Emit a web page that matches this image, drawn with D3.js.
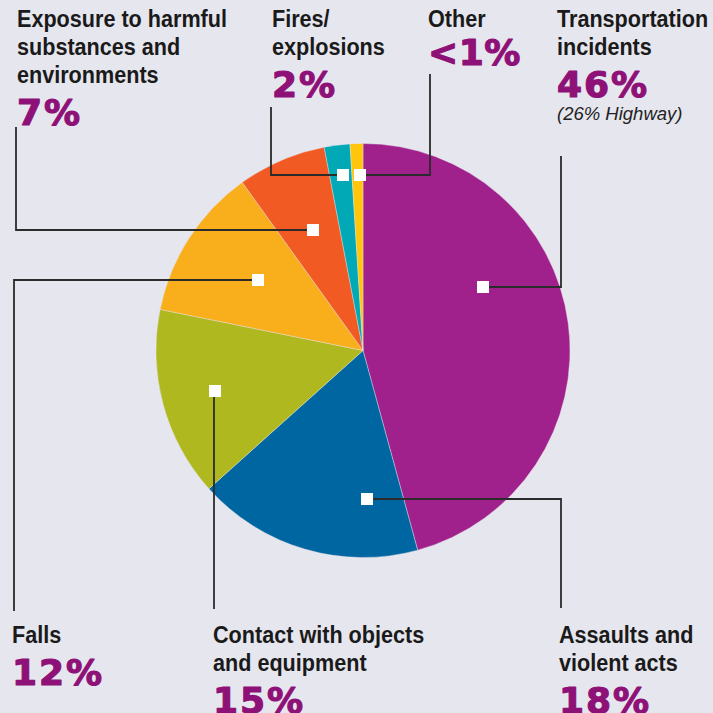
<!DOCTYPE html>
<html><head><meta charset="utf-8">
<script src="https://cdn.jsdelivr.net/npm/d3@7"></script>
<style>
html,body{margin:0;padding:0;background:#e6e6ee;}
svg{display:block;}
</style></head>
<body>
<svg id="chart" width="713" height="713"></svg>
<script>
// ---- data ----
const categories = ["Transportation incidents","Assaults and violent acts","Contact with objects and equipment","Falls","Exposure to harmful substances and environments","Fires/explosions","Other"];
const values = [45.7, 17.6, 14.8, 11.9, 6.9, 2.0, 1.0];
const percentLabels = ["46%","18%","15%","12%","7%","2%","<1%"];
const titleLines = [["Transportation","incidents"],["Assaults and","violent acts"],["Contact with objects","and equipment"],["Falls"],["Exposure to harmful","substances and","environments"],["Fires/","explosions"],["Other"]];
const notes = ["(26% Highway)","","","","","",""];
const colors = ["#a0218b","#0066a1","#afb81f","#f9ae1c","#f15a22","#00a9b5","#ffc60b"];

// ---- layout (positions only) ----
const cx = 363, cy = 350.5, R = 207;
const layout = [
  {mx:483,my:287, path:"h", ex:561, ey:156, lx:557, ly:27},
  {mx:367,my:499, path:"h", ex:561, ey:608, lx:559, ly:643},
  {mx:215,my:391, path:"v", ex:214, ey:609, lx:213, ly:643},
  {mx:258,my:280, path:"h", ex:14,  ey:611, lx:12,  ly:643},
  {mx:313,my:230, path:"h", ex:16,  ey:127, lx:17,  ly:27},
  {mx:343,my:175, path:"h", ex:271, ey:107, lx:272, ly:27},
  {mx:360,my:175, path:"h", ex:430, ey:74,  lx:428, ly:27}
];

const svg = d3.select("#chart");
svg.append("rect").attr("width",713).attr("height",713).attr("fill","#e6e6ee");

const pie = d3.pie().sort(null).startAngle(0).endAngle(2*Math.PI).value(d=>d);
const arc = d3.arc().innerRadius(0).outerRadius(R);
const g = svg.append("g").attr("transform",`translate(${cx},${cy})`);
g.selectAll("path").data(pie(values)).join("path")
  .attr("d",arc).attr("fill",(d,i)=>colors[i])
  .attr("stroke","#e6e6ee").attr("stroke-width",0.4);

// leader lines
const lines = svg.append("g");
layout.forEach((L,i)=>{
  let pts;
  if(L.path==="h") pts=[[L.mx,L.my],[L.ex,L.my],[L.ex,L.ey]];
  else pts=[[L.ex,L.my],[L.ex,L.ey]];
  lines.append("path").attr("d",d3.line()(pts))
    .attr("fill","none").attr("stroke","#2b2b2b").attr("stroke-width",1.8);
});
// markers
svg.append("g").selectAll("rect").data(layout).join("rect")
  .attr("x",d=>d.mx-6).attr("y",d=>d.my-6).attr("width",12).attr("height",12).attr("fill","#fff");

// labels
const titleFont = "'Liberation Sans',Arial,sans-serif";
const pctFont = "'DejaVu Sans',sans-serif";
layout.forEach((L,i)=>{
  const t = svg.append("g").attr("transform",`translate(${L.lx},0)`);
  const tt = t.append("g").attr("transform","scale(0.9,1)");
  titleLines[i].forEach((s,j)=>{
    tt.append("text").attr("x",0).attr("y",L.ly+j*28).text(s)
      .attr("font-family",titleFont).attr("font-weight","bold").attr("font-size",24)
      .attr("fill","#1a1a1a");
  });
  const n = titleLines[i].length;
  let py = L.ly + (n-1)*28 + 42;
  if(i===6) py = L.ly + 38;
  if(i===0) py = 97;
  t.append("text").attr("x",0).attr("y",py).text(percentLabels[i])
    .attr("font-family",pctFont).attr("font-weight","bold").attr("font-size",36)
    .attr("letter-spacing",i===6?0.5:2).attr("fill","#8e1177")
    .attr("stroke","#8e1177").attr("stroke-width",1.2).attr("stroke-linejoin","round");
  if(notes[i]){
    t.append("text").attr("x",0).attr("y",py+23).text(notes[i])
      .attr("font-family","'Liberation Sans',Arial,sans-serif").attr("font-style","italic")
      .attr("font-size",18.5).attr("fill","#222");
  }
});
</script>
</body></html>
